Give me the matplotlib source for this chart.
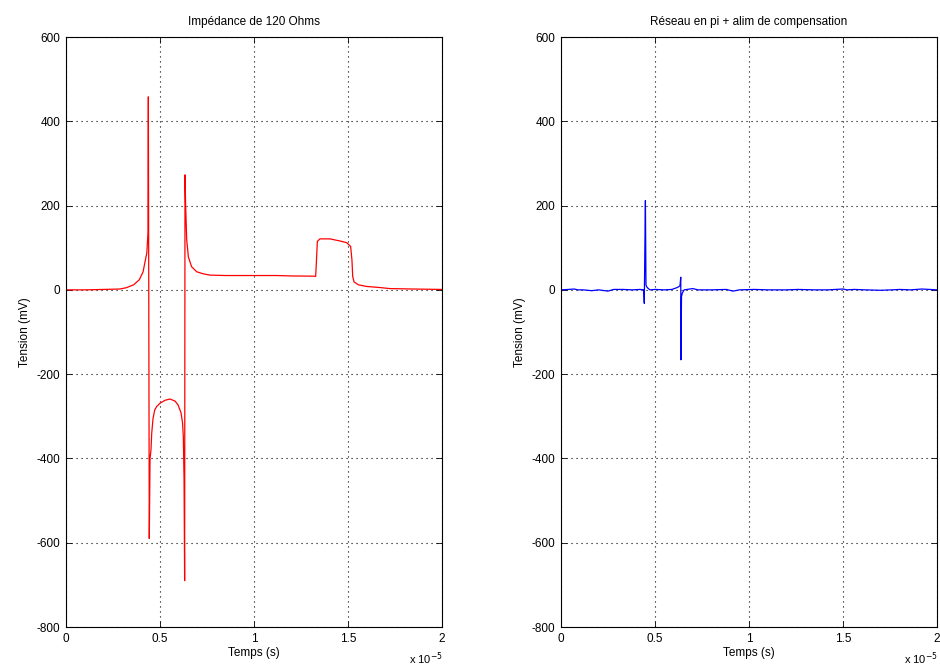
import matplotlib
matplotlib.use("Agg")
import matplotlib.pyplot as plt

# time in units of 1e-5 s, voltage in mV
t_left = [0.0, 0.10, 0.20, 0.287, 0.32, 0.36, 0.39, 0.41, 0.43, 0.436, 0.438, 0.443, 0.447,
          0.452, 0.456, 0.463, 0.472, 0.482, 0.50, 0.527, 0.553, 0.58, 0.596, 0.612, 0.620,
          0.624, 0.628, 0.631, 0.633, 0.636, 0.642, 0.651, 0.668, 0.695, 0.73, 0.766, 0.85,
          1.0, 1.12, 1.20, 1.315, 1.328, 1.332, 1.337, 1.351, 1.404, 1.457, 1.493, 1.514,
          1.521, 1.525, 1.532, 1.555, 1.60, 1.67, 1.723, 1.846, 2.0]
v_left = [0, 0, 1, 2, 5, 12, 24, 43, 88, 135, 458, -590, -400,
          -380, -340, -305, -285, -277, -269, -262, -259, -264, -273, -292, -316,
          -348, -450, -690, 273, 206, 119, 78, 55, 43, 38, 35, 34,
          34, 34, 33, 32.5, 32, 67, 115, 121, 121, 116, 112, 103,
          71, 32, 19, 12, 8, 5.5, 3, 2, 1]

t_right = [0.0, 0.04, 0.07, 0.09, 0.12, 0.163, 0.20, 0.25, 0.28, 0.33, 0.38, 0.42, 0.440,
           0.443, 0.447, 0.449, 0.452, 0.455, 0.462, 0.473, 0.50, 0.55, 0.59, 0.615, 0.625,
           0.633, 0.637, 0.638, 0.641, 0.645, 0.655, 0.67, 0.70, 0.73, 0.80, 0.88, 0.915,
           0.95, 1.03, 1.10, 1.20, 1.26, 1.35, 1.42, 1.50, 1.52, 1.56, 1.62, 1.70, 1.76,
           1.80, 1.86, 1.92, 2.0]
v_right = [0, 1, 2, 0, 0, -2, 0, -3, 1, 1, 0, 1, 0,
           -32, 138, 212, 12, 8, 4, 0, 1, 0, 1, 5, 7,
           10, 30, -166, -16, -8, 0, 1, 3, 0, 0, 1, -3,
           0, 1, 0, 0, 1, 0, 0, 2, 0, 1, 0, -1, 0,
           1, 0, 2, 0]

xticks = [0, 0.5, 1, 1.5, 2]
yticks = [-800, -600, -400, -200, 0, 200, 400, 600]
titles = ["Impédance de 120 Ohms", "Réseau en pi + alim de compensation"]

plt.rcParams['font.family'] = ['Liberation Sans', 'DejaVu Sans']
plt.rcParams['font.size'] = 8.5
plt.rcParams['axes.unicode_minus'] = False

fig = plt.figure(figsize=(9.4, 6.7), dpi=100)
W, H = 940, 670
axes_px = [(66, 37, 442, 627), (561, 37, 937, 627)]
series = [(t_left, v_left, '#ff0000'), (t_right, v_right, '#0000ff')]

for (x0, y0, x1, y1), (tt, vv, col), title in zip(axes_px, series, titles):
    ax = fig.add_axes([x0 / W, 1 - y1 / H, (x1 - x0) / W, (y1 - y0) / H])
    ax.plot(tt, vv, color=col, linewidth=0.9)
    ax.set_xlim(0, 2)
    ax.set_ylim(-800, 600)
    ax.set_xticks(xticks)
    ax.set_xticklabels(['0', '0.5', '1', '1.5', '2'])
    ax.set_yticks(yticks)
    ax.grid(True, color='black', linestyle=(0, (1, 3.5)), linewidth=0.8)
    ax.tick_params(direction='in', top=True, right=True, length=4, width=0.6,
                   labelsize=8.5, pad=4)
    for s in ax.spines.values():
        s.set_linewidth(0.8)
    ax.set_title(title, fontsize=8.5, pad=9)
    ax.set_xlabel('Temps (s)', fontsize=8.5, labelpad=2)
    ax.set_ylabel('Tension (mV)', fontsize=8.5, labelpad=4)
    fig.text((x1 - 33) / W, 1 - 667 / H, r'x 10$^{-5}$', fontsize=8, ha='left', va='bottom')

fig.savefig('out.png', dpi=100)
